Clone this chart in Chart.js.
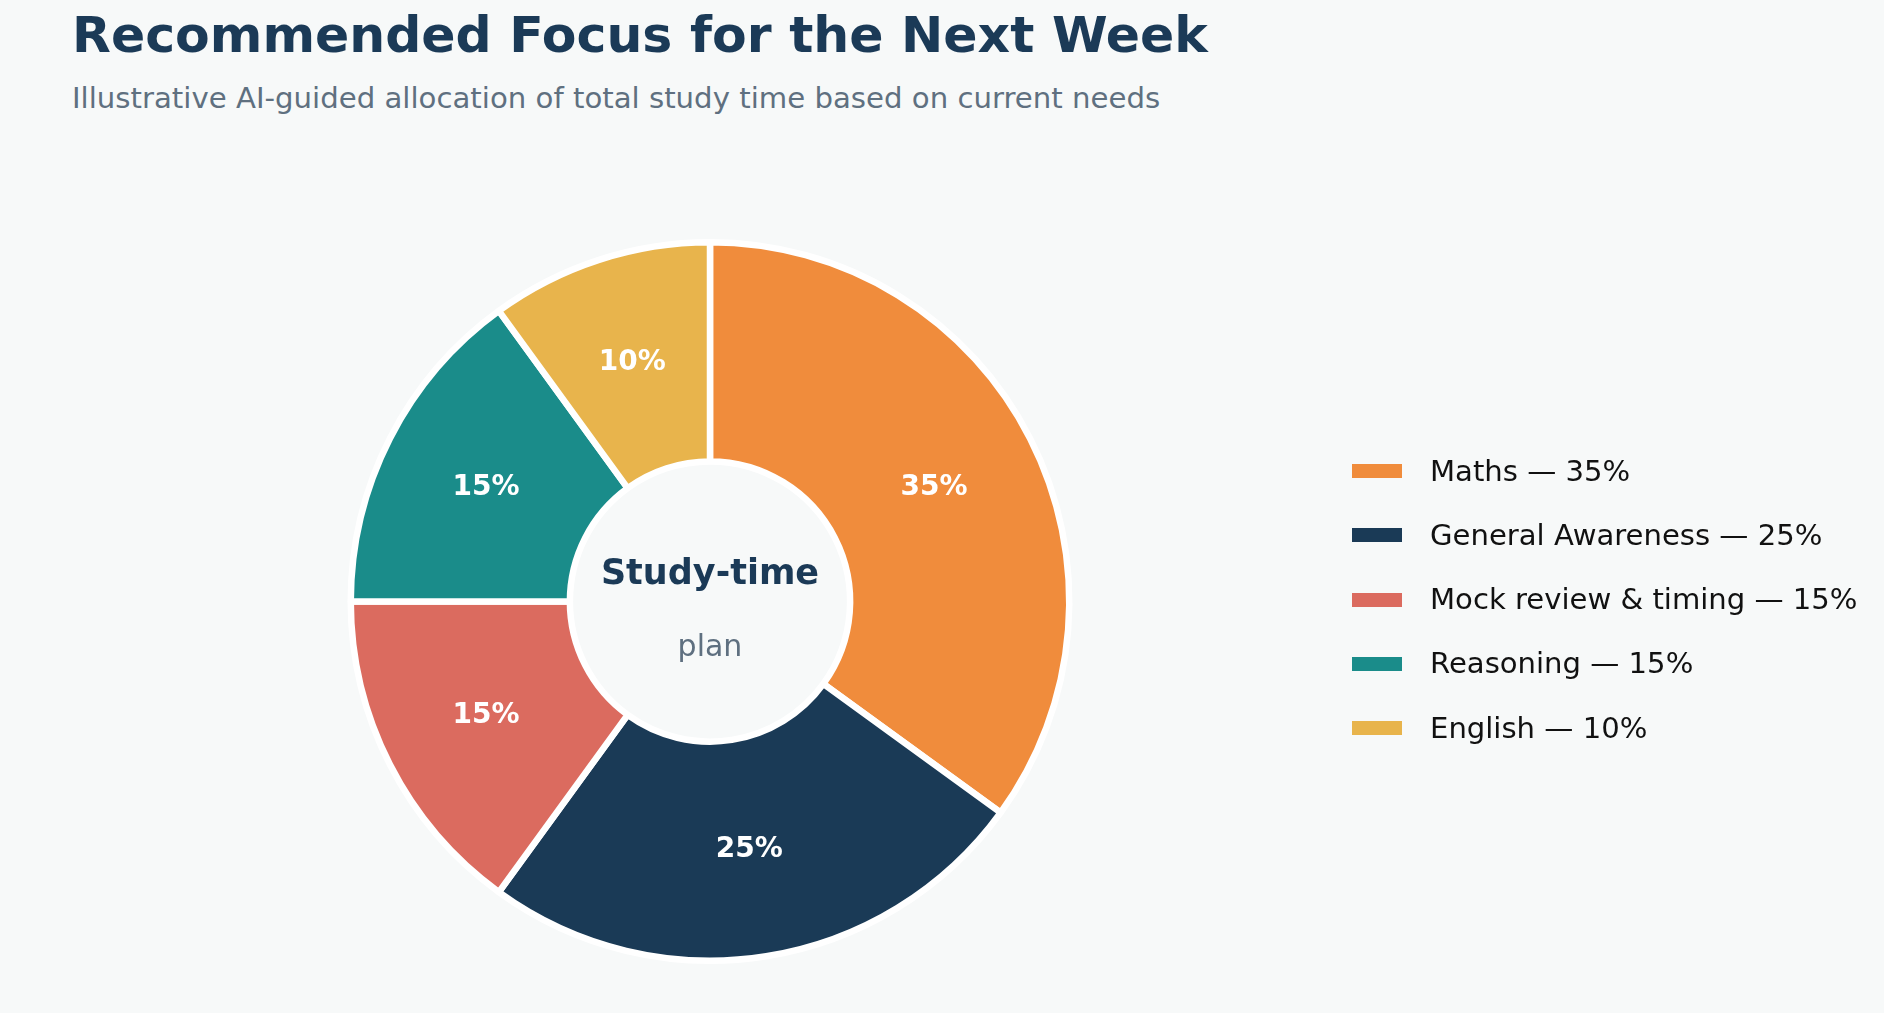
<!DOCTYPE html>
<html>
<head>
<meta charset="utf-8">
<script src="https://cdn.jsdelivr.net/npm/chart.js@4.4.1/dist/chart.umd.min.js"></script>
<style>
  html, body { margin: 0; padding: 0; background: #f7f9f9; }
  body { width: 1884px; height: 1013px; position: relative; overflow: hidden; font-family: "DejaVu Sans", sans-serif; }
  #wrap { position: absolute; left: 0; top: 0; width: 1884px; height: 1013px; }
  .title { position: absolute; left: 72px; top: 10px; font-size: 50.5px; line-height: 1; font-weight: bold; color: #1b3a57; white-space: nowrap; }
  .subtitle { position: absolute; left: 72px; top: 84px; font-size: 29.2px; line-height: 1; color: #5f7080; white-space: nowrap; }
  #legend { position: absolute; left: 1352px; top: 439px; }
  .row { display: flex; align-items: center; height: 64.25px; }
  .swatch { width: 50px; height: 14px; margin-right: 28px; }
  .lbl { font-size: 29.1px; line-height: 1; color: #111; white-space: nowrap; }
</style>
</head>
<body>
<div class="title">Recommended Focus for the Next Week</div>
<div class="subtitle">Illustrative AI-guided allocation of total study time based on current needs</div>
<div id="wrap"><canvas id="chart" width="1884" height="1013"></canvas></div>
<div id="legend"></div>
<script>
const subjects = ['Maths', 'General Awareness', 'Mock review & timing', 'Reasoning', 'English'];
const shares = [35, 25, 15, 15, 10];
const colours = ['#f08c3c', '#1a3a56', '#db6b5f', '#1a8c8a', '#e8b44c'];

// legend built from the same arrays
const legend = document.getElementById('legend');
subjects.forEach((s, i) => {
  const row = document.createElement('div');
  row.className = 'row';
  row.innerHTML = '<div class="swatch" style="background:' + colours[i] + '"></div><div class="lbl">' +
    s.replace('&', '&amp;') + ' \u2014 ' + shares[i] + '%</div>';
  legend.appendChild(row);
});

// percent labels at 70% of the outer radius, like pctdistance
const sliceLabels = {
  id: 'sliceLabels',
  afterDatasetsDraw(chart) {
    const ctx = chart.ctx;
    const meta = chart.getDatasetMeta(0);
    ctx.save();
    ctx.fillStyle = '#ffffff';
    ctx.font = 'bold 28px "DejaVu Sans"';
    ctx.textAlign = 'center';
    ctx.textBaseline = 'middle';
    meta.data.forEach((arc, i) => {
      const p = arc.getProps(['x', 'y', 'startAngle', 'endAngle', 'outerRadius'], true);
      const mid = (p.startAngle + p.endAngle) / 2;
      const r = p.outerRadius * 0.7;
      ctx.fillText(shares[i] + '%', p.x + Math.cos(mid) * r, p.y + Math.sin(mid) * r);
    });
    ctx.restore();
  }
};

const centreText = {
  id: 'centreText',
  afterDraw(chart) {
    const ctx = chart.ctx;
    const a = chart.chartArea;
    const cx = (a.left + a.right) / 2;
    const cy = (a.top + a.bottom) / 2;
    ctx.save();
    ctx.textAlign = 'center';
    ctx.textBaseline = 'middle';
    ctx.fillStyle = '#1b3a57';
    ctx.font = 'bold 35px "DejaVu Sans"';
    ctx.fillText('Study-time', cx, cy - 27);
    ctx.fillStyle = '#5f7080';
    ctx.font = '30px "DejaVu Sans"';
    ctx.fillText('plan', cx, cy + 47);
    ctx.restore();
  }
};

const ctx = document.getElementById('chart').getContext('2d');
const chart = new Chart(ctx, {
  type: 'doughnut',
  data: {
    labels: subjects,
    datasets: [{
      data: shares,
      backgroundColor: colours,
      borderColor: '#ffffff',
      borderWidth: 6.5,
      hoverOffset: 0
    }]
  },
  options: {
    responsive: false,
    devicePixelRatio: 1,
    animation: false,
    cutout: '39%',
    layout: { padding: { left: 347, right: 811, top: 239, bottom: 49 } },
    plugins: {
      legend: { display: false },
      tooltip: { enabled: false }
    }
  },
  plugins: [sliceLabels, centreText]
});
</script>
</body>
</html>
